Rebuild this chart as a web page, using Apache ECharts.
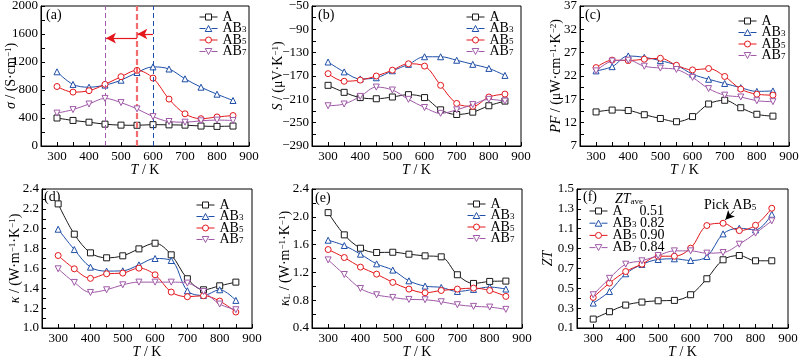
<!DOCTYPE html>
<html>
<head>
<meta charset="utf-8">
<script src="https://cdn.jsdelivr.net/npm/echarts@6/dist/echarts.min.js"></script>
<style>html,body{margin:0;padding:0;background:#fff}#c{width:800px;height:358px}</style>
</head>
<body>
<div id="c"></div>
<script>
// ---------------- data ----------------
const temps = [300,350,400,450,500,550,600,650,700,750,800,850];
const seriesNames = ['A','AB3','AB5','AB7'];

const sigmaA   = [400,365,340,312,298,296,305,302,298,285,280,285];
const sigmaAB3 = [1060,880,840,870,940,1050,1130,1100,960,840,740,650];
const sigmaAB5 = [850,770,790,880,990,1080,970,670,460,390,415,435];
const sigmaAB7 = [470,520,600,680,620,530,420,350,340,360,370,365];

const seebA   = [-186,-198,-207,-209,-206,-202,-207,-228,-236,-232,-221,-213];
const seebAB3 = [-146,-163,-175,-173,-161,-150,-137,-137,-143,-150,-157,-169];
const seebAB5 = [-166,-179,-177,-170,-160,-149,-153,-186,-217,-222,-206,-201];
const seebAB7 = [-221,-218,-205,-189,-194,-210,-224,-234,-228,-219,-210,-213];

const pfA   = [14.3,14.7,14.6,13.7,12.9,12.2,13.3,16.0,16.8,15.2,13.8,13.4];
const pfAB3 = [23.1,24.0,26.3,26.0,25.3,24.3,22.4,21.3,20.4,19.5,18.7,18.8];
const pfAB5 = [23.8,25.4,25.3,25.6,25.8,24.3,23.3,23.6,21.9,19.2,18.1,17.9];
const pfAB7 = [23.1,25.2,25.4,24.1,23.7,23.4,21.7,19.3,17.9,17.5,16.7,16.5];

const kA   = [2.25,1.945,1.757,1.707,1.727,1.797,1.854,1.737,1.496,1.385,1.425,1.462];
const kAB3 = [1.995,1.79,1.613,1.573,1.576,1.636,1.70,1.68,1.375,1.328,1.385,1.278];
const kAB5 = [1.73,1.596,1.50,1.546,1.553,1.603,1.536,1.362,1.315,1.325,1.271,1.161];
const kAB7 = [1.596,1.459,1.358,1.385,1.435,1.462,1.462,1.462,1.452,1.368,1.241,1.184];

const kLA   = [2.06,1.74,1.548,1.486,1.49,1.462,1.438,1.424,1.166,1.041,1.07,1.075];
const kLAB3 = [1.663,1.587,1.462,1.323,1.233,1.079,1.003,0.984,0.926,0.955,0.989,0.96];
const kLAB5 = [1.529,1.414,1.276,1.175,1.056,0.96,0.907,0.94,0.96,0.974,0.94,0.855];
const kLAB7 = [1.38,1.17,0.969,0.878,0.84,0.811,0.807,0.778,0.735,0.711,0.701,0.668];

const ztA   = [0.19,0.264,0.331,0.361,0.374,0.378,0.435,0.596,0.787,0.83,0.777,0.777];
const ztAB3 = [0.351,0.468,0.646,0.74,0.79,0.797,0.78,0.82,1.048,1.105,1.088,1.245];
const ztAB5 = [0.408,0.552,0.669,0.743,0.823,0.823,0.904,1.132,1.155,1.081,1.135,1.306];
const ztAB7 = [0.435,0.6,0.743,0.777,0.83,0.877,0.877,0.854,0.86,0.944,1.055,1.179];
const ztAve = ['0.51','0.82','0.90','0.84'];

const xTickLabels = [300,400,500,600,700,800,900];
const xTickMarks  = [250,300,350,400,450,500,550,600,650,700,750,800,850,900];

const yLabelsA = [0,400,800,1200,1600,2000];
const yLabelsB = [-290,-250,-210,-170,-130,-90,-50];
const yLabelsC = [7,12,17,22,27,32,37];
const yLabelsD = [1.0,1.2,1.4,1.6,1.8,2.0,2.2,2.4];
const yLabelsE = [0.4,0.8,1.2,1.6,2.0,2.4];
const yLabelsF = [0.1,0.3,0.5,0.7,0.9,1.1,1.3,1.5];

// annotation values for panel (a)
const sigmaMarkT = [450,550,600];
const arrow1 = [[600,1600],[551,1600]];
const arrow2 = [[550,1540],[453,1540]];
const pickArrow = [[733,1.28],[707,1.19]];

// ---------------- style ----------------
const FONT = 'Liberation Serif';
const colors = {A:'#1a1a1a', AB3:'#1f4fa8', AB5:'#e3171c', AB7:'#a05aa8'};
const symbols = {A:'rect', AB3:'triangle', AB5:'circle', AB7:'triangle'};
const rot = {A:0, AB3:0, AB5:0, AB7:180};
const legendIcons = {
  A:  'path://M0,3L6,3M6,0L12,0L12,6L6,6ZM12,3L18,3',
  AB3:'path://M0,3L6,3M9,0L12.3,6L5.7,6ZM12,3L18,3',
  AB5:'path://M0,3L6,3M12,3A3,3 0 1,1 6,3A3,3 0 1,1 12,3ZM12,3L18,3',
  AB7:'path://M0,3L6,3M5.7,0L12.3,0L9,6ZM12,3L18,3'
};

const grids = [
  {left:41, top:6, width:208, height:140},
  {left:312, top:6, width:209, height:140},
  {left:580, top:6, width:209, height:140},
  {left:42, top:189, width:210, height:139},
  {left:312, top:189, width:210, height:139},
  {left:577, top:189, width:211, height:139}
];

const richBase = {
  i:{fontStyle:'italic', fontFamily:FONT, fontSize:14, color:'#000'},
  sup:{fontFamily:FONT, fontSize:9, verticalAlign:'top', color:'#000'},
  sub:{fontFamily:FONT, fontSize:9, verticalAlign:'bottom', color:'#000'},
  n:{fontFamily:FONT, fontSize:14, color:'#000'}
};
function legendRich(lh){
  return {
    n:{fontFamily:FONT, fontSize:14, color:'#000', lineHeight:lh},
    sub:{fontFamily:FONT, fontSize:9, color:'#000', lineHeight:lh, verticalAlign:'bottom'},
    w:{fontFamily:FONT, fontSize:14, color:'#000', width:27, lineHeight:lh},
    v:{fontFamily:FONT, fontSize:14, color:'#000', lineHeight:lh}
  };
}

function ticksBetween(labels){
  const out=[];
  for(let k=0;k<labels.length;k++){
    out.push(labels[k]);
    if(k<labels.length-1) out.push((labels[k]+labels[k+1])/2);
  }
  return out;
}

const panels = [
  {labels:yLabelsA, dec:0, name:'{i|σ} / (S·cm{sup|−1})', gap:23, data:[sigmaA,sigmaAB3,sigmaAB5,sigmaAB7], tag:'(a)', tagPos:[46,8], leg:[199,10]},
  {labels:yLabelsB, dec:0, name:'{i|S} / (μV·K{sup|−1})', gap:27, data:[seebA,seebAB3,seebAB5,seebAB7], tag:'(b)', tagPos:[318,8], leg:[466,10]},
  {labels:yLabelsC, dec:0, name:'{i|PF} / (μW·cm{sup|−1}·K{sup|−2})', gap:17, data:[pfA,pfAB3,pfAB5,pfAB7], tag:'(c)', tagPos:[585,8], leg:[738,14]},
  {labels:yLabelsD, dec:1, name:'{i|κ} / (W·m{sup|−1}·K{sup|−1})', gap:20, data:[kA,kAB3,kAB5,kAB7], tag:'(d)', tagPos:[44,190], leg:[196,198]},
  {labels:yLabelsE, dec:1, name:'{i|κ}{sub|L} / (W·m{sup|−1}·K{sup|−1})', gap:20, data:[kLA,kLAB3,kLAB5,kLAB7], tag:'(e)', tagPos:[315,191], leg:[467,197]},
  {labels:yLabelsF, dec:1, name:'{i|ZT}', gap:22, data:[ztA,ztAB3,ztAB5,ztAB7], tag:'(f)', tagPos:[583,190], leg:[589,204]}
];

const option = {
  animation:false,
  backgroundColor:'#fff',
  grid:[], xAxis:[], yAxis:[], series:[], legend:[], graphic:[]
};

panels.forEach((p,gi)=>{
  option.grid.push(Object.assign({show:true, borderColor:'#000', borderWidth:1, backgroundColor:'transparent', containLabel:false, outerBoundsMode:'none'}, grids[gi]));
  option.xAxis.push({
    gridIndex:gi, type:'value', min:250, max:900,
    axisLine:{show:true, onZero:false, lineStyle:{color:'#000', width:1}},
    axisTick:{show:true, inside:true, length:4, customValues:xTickMarks, lineStyle:{color:'#000'}},
    axisLabel:{customValues:xTickLabels, color:'#000', fontFamily:FONT, fontSize:13, margin:4},
    splitLine:{show:false},
    name:'{i|T} / K', nameLocation:'middle', nameGap:17, nameMoveOverlap:false,
    nameTextStyle:{fontFamily:FONT, fontSize:14, color:'#000', rich:richBase}
  });
  const lab = p.labels;
  option.yAxis.push({
    gridIndex:gi, type:'value', min:lab[0], max:lab[lab.length-1],
    axisLine:{show:true, onZero:false, lineStyle:{color:'#000', width:1}},
    axisTick:{show:true, inside:true, length:4, customValues:ticksBetween(lab), lineStyle:{color:'#000'}},
    axisLabel:{customValues:lab, color:'#000', fontFamily:FONT, fontSize:13, margin:3,
      formatter:(v)=>Number(v).toFixed(p.dec).replace('-','−')},
    splitLine:{show:false},
    name:p.name, nameLocation:'middle', nameGap:p.gap, nameMoveOverlap:false,
    nameTextStyle:{fontFamily:FONT, fontSize:14, color:'#000', rich:richBase}
  });
  seriesNames.forEach((nm,si)=>{
    const c = colors[nm];
    option.series.push({
      type:'line', name:nm, xAxisIndex:gi, yAxisIndex:gi,
      data:temps.map((t,k)=>[t,p.data[si][k]]),
      smooth:0.35, symbol:symbols[nm], symbolRotate:rot[nm], symbolSize:6,
      showAllSymbol:true, color:c,
      lineStyle:{color:c, width:1},
      itemStyle:{color:'#fff', borderColor:c, borderWidth:1},
      z:2+si
    });
  });
  const isF = gi===5;
  const lh = isF?12.2:11.5;
  option.legend.push({
    orient:'vertical', left:p.leg[0], top:p.leg[1], itemWidth:18, itemHeight:6, itemGap:isF?-1.8:-2.5,
    data:seriesNames.map(nm=>({name:nm, icon:legendIcons[nm], itemStyle:{color:'#fff', borderColor:colors[nm], borderWidth:1}})),
    selectedMode:false, padding:0, symbolKeepAspect:true,
    textStyle:{fontFamily:FONT, fontSize:14, color:'#000', lineHeight:lh, rich:legendRich(lh)},
    formatter:(name)=>{
      const idx = seriesNames.indexOf(name);
      if(isF){
        return name==='A' ? '{w|A}{v|'+ztAve[idx]+'}' : '{n|AB}{sub|'+name.slice(2)+'}{v| '+ztAve[idx]+'}';
      }
      return name==='A' ? '{n|A}' : '{n|AB}{sub|'+name.slice(2)+'}';
    }
  });
  option.graphic.push({type:'text', left:p.tagPos[0], top:p.tagPos[1], style:{text:p.tag, font:'14px "Liberation Serif"', fill:'#000'}});
});

// panel (a) annotation lines & arrows
option.series.push({
  type:'line', xAxisIndex:0, yAxisIndex:0, data:[], silent:true,
  markLine:{
    silent:true, symbol:['none','none'], animation:false, label:{show:false},
    data:[
      {xAxis:sigmaMarkT[0], lineStyle:{color:'#a05aa8', type:[5,3], width:1}},
      {xAxis:sigmaMarkT[1], lineStyle:{color:'#f26d6d', type:[6,3], width:2.2}},
      {xAxis:sigmaMarkT[2], lineStyle:{color:'#1f4fa8', type:[5,3], width:1}},
      [{coord:arrow1[0], symbol:'none'},{coord:arrow1[1], symbol:'arrow', symbolSize:[8,10], lineStyle:{color:'#e3171c', width:1.2, type:'solid'}}],
      [{coord:arrow2[0], symbol:'none'},{coord:arrow2[1], symbol:'arrow', symbolSize:[8,10], lineStyle:{color:'#e3171c', width:1.2, type:'solid'}}]
    ]
  }
});
// panel (f) pick arrow
option.series.push({
  type:'line', xAxisIndex:5, yAxisIndex:5, data:[], silent:true,
  markLine:{
    silent:true, animation:false, label:{show:false},
    data:[[{coord:pickArrow[0], symbol:'none'},{coord:pickArrow[1], symbol:'arrow', symbolSize:[7,9], lineStyle:{color:'#000', width:1, type:'solid'}}]]
  }
});

option.graphic.push({type:'text', left:615, top:192, style:{text:'{i|ZT}{sub|ave}', rich:richBase, fill:'#000'}});
option.graphic.push({type:'text', left:704, top:198, style:{text:'{n|Pick AB}{sub|5}', rich:richBase, fill:'#000'}});

const chart = echarts.init(document.getElementById('c'), null, {renderer:'canvas'});
chart.setOption(option);
</script>
</body>
</html>
